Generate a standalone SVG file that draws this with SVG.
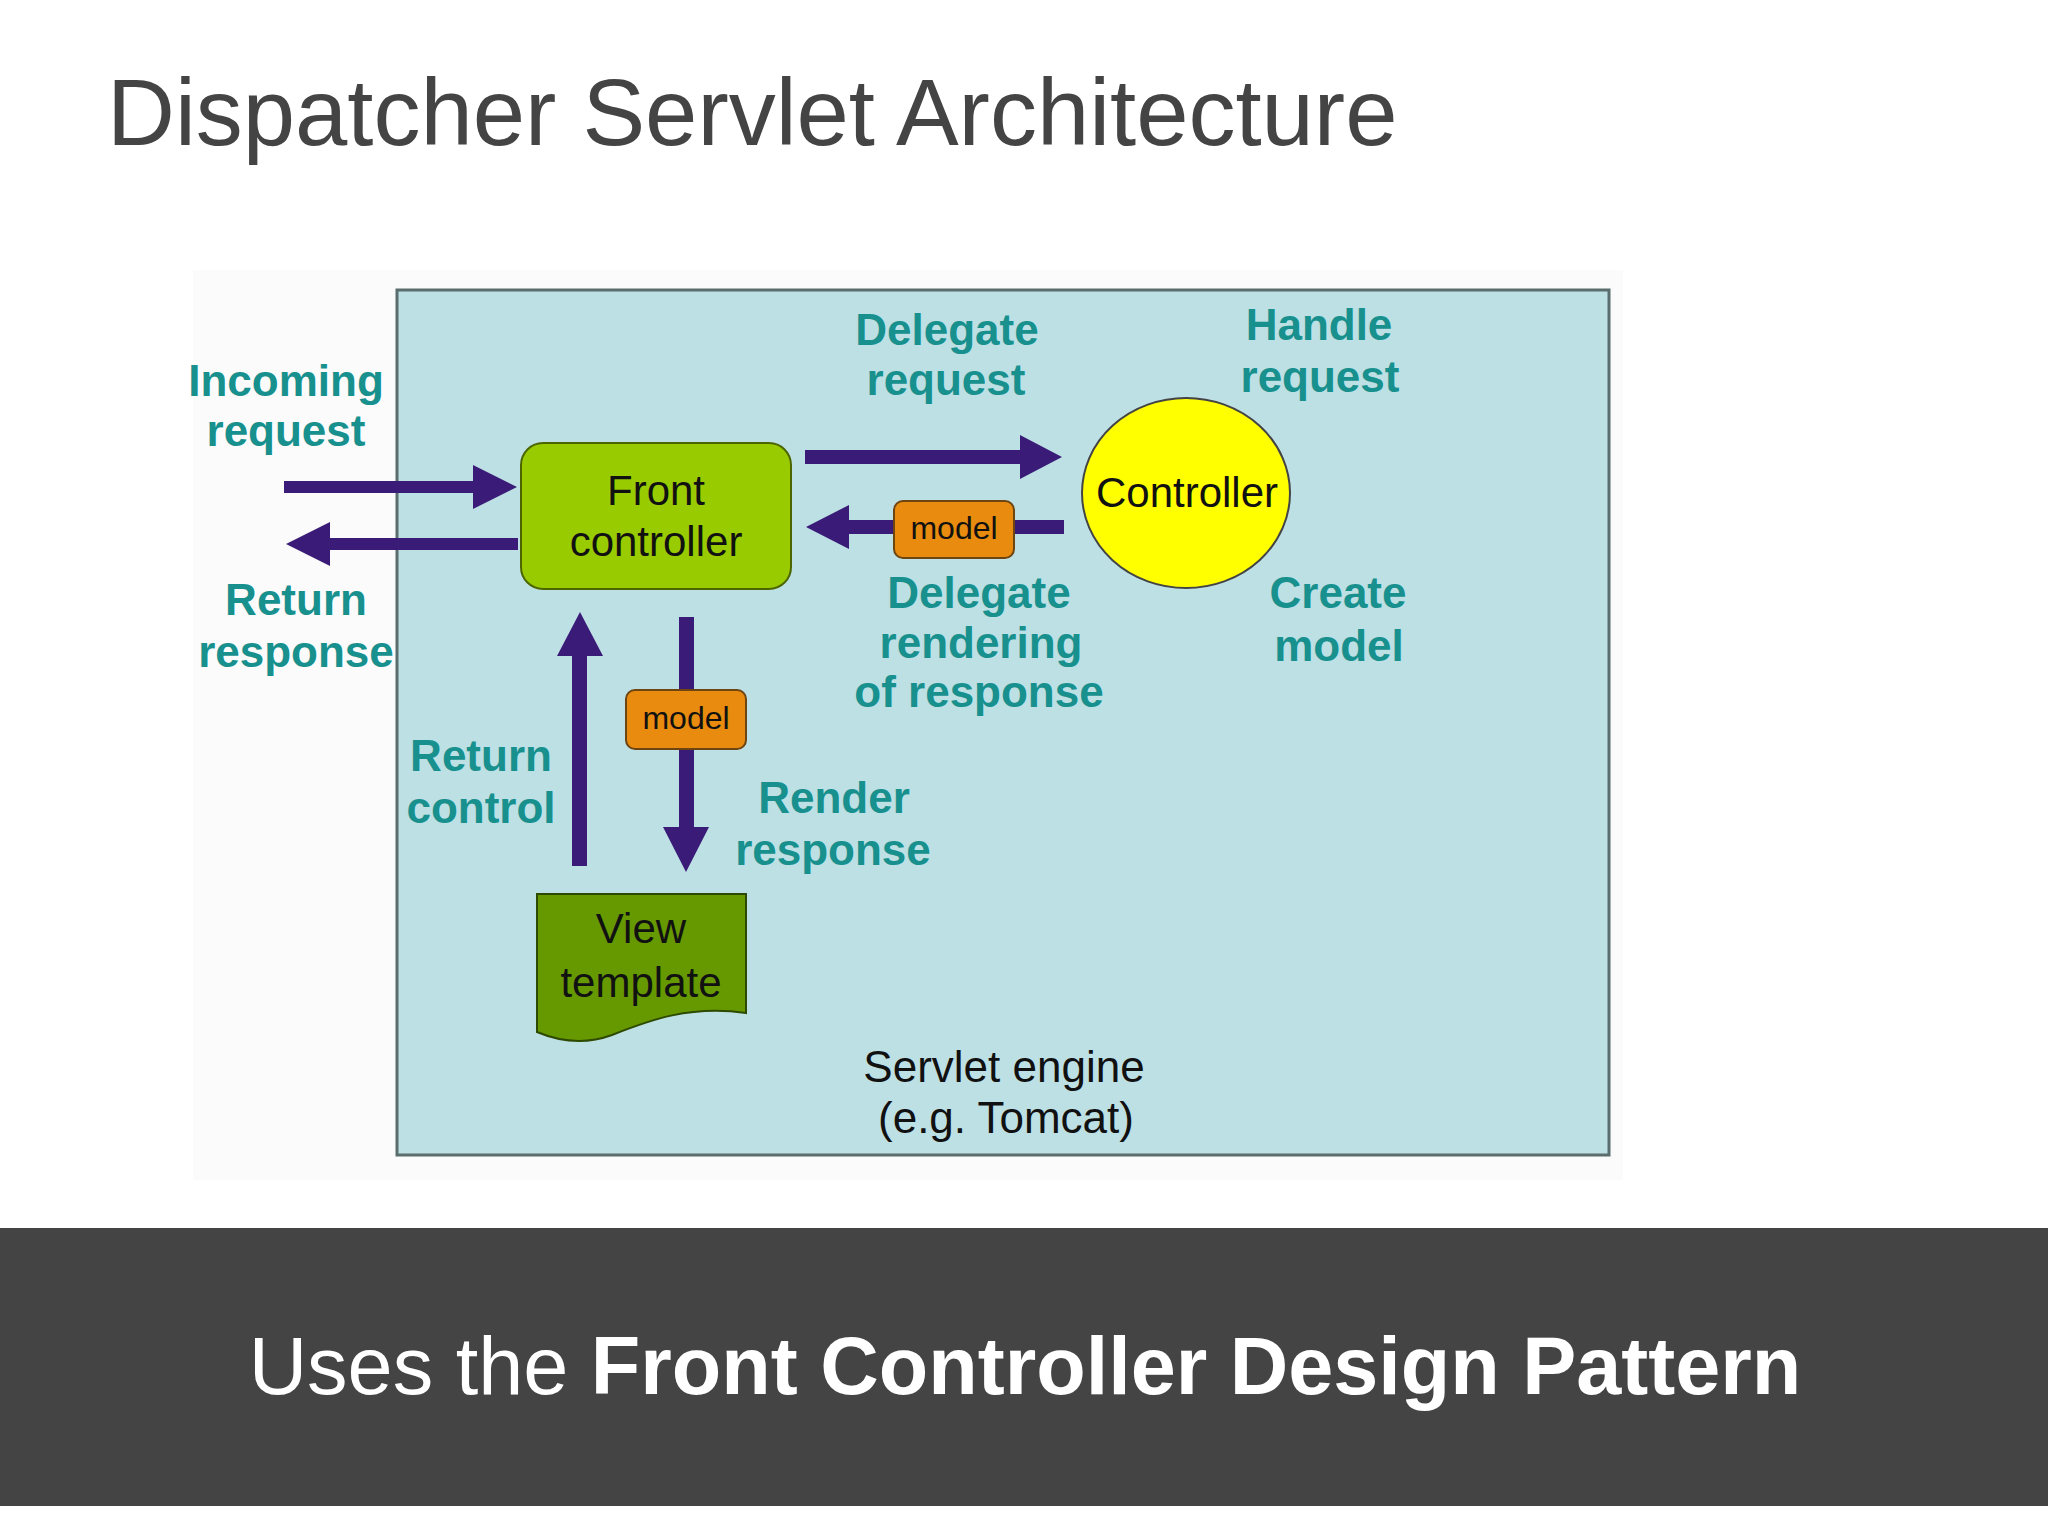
<svg xmlns="http://www.w3.org/2000/svg" width="2048" height="1536" viewBox="0 0 2048 1536">
<style>
.lbl{font-family:"Liberation Sans",Arial,sans-serif;font-weight:bold;font-size:44px;fill:#17908e;text-anchor:middle}
.txt{font-family:"Liberation Sans",Arial,sans-serif;font-size:42px;fill:#111;text-anchor:middle}
.big{font-size:44px}
.mdl{font-family:"Liberation Sans",Arial,sans-serif;font-size:32px;fill:#111;text-anchor:middle}
.arr{fill:#3a1c78}
.model{fill:#e88b0e;stroke:#6e4410;stroke-width:2}
</style>
<rect width="2048" height="1536" fill="#ffffff"/>
<text x="107" y="145" font-family="'Liberation Sans',Arial,sans-serif" font-size="94" fill="#444444">Dispatcher Servlet Architecture</text>
<rect x="193" y="270" width="1430" height="910" fill="#fbfbfb"/>
<g id="servlet-engine">
<rect x="397" y="290" width="1212" height="865" fill="#bde0e5" stroke="#5a6e6e" stroke-width="3"/>
<text class="txt big" x="1004" y="1082">Servlet engine</text>
<text class="txt big" x="1006" y="1133">(e.g. Tomcat)</text>
</g>
<g id="connectors">
<polygon class="arr" points="284,481 473,481 473,465 517,487 473,509 473,493 284,493"/>
<polygon class="arr" points="518,538 330,538 330,522 286,544 330,566 330,550 518,550"/>
<polygon class="arr" points="805,450 1020,450 1020,435 1062,457 1020,479 1020,464 805,464"/>
<polygon class="arr" points="1064,520 849,520 849,505 806,527 849,549 849,534 1064,534"/>
<polygon class="arr" points="572,866 572,656 557,656 580,612 603,656 587,656 587,866"/>
<polygon class="arr" points="679,617 694,617 694,827 709,827 686,872 663,827 679,827"/>
</g>
<g id="model-horizontal">
<rect class="model" x="894" y="501" width="120" height="57" rx="9"/>
<text class="mdl" x="954" y="539">model</text>
</g>
<g id="model-vertical">
<rect class="model" x="626" y="690" width="120" height="59" rx="9"/>
<text class="mdl" x="686" y="729">model</text>
</g>
<g id="front-controller">
<rect x="521" y="443" width="270" height="146" rx="22" fill="#99cc00" stroke="#4d6600" stroke-width="2"/>
<text class="txt" x="656" y="505">Front</text>
<text class="txt" x="656" y="556">controller</text>
</g>
<g id="controller">
<ellipse cx="1186" cy="493" rx="104" ry="95" fill="#ffff00" stroke="#444" stroke-width="2"/>
<text class="txt" x="1187" y="507">Controller</text>
</g>
<g id="view-template">
<path d="M537,894 L746,894 L746,1013 C690,1005 650,1020 612,1035 C582,1046 556,1040 537,1032 Z" fill="#669900" stroke="#2d4a00" stroke-width="2"/>
<text class="txt" x="641" y="943">View</text>
<text class="txt" x="641" y="997">template</text>
</g>
<g id="labels">
<text class="lbl" x="286" y="396">Incoming</text>
<text class="lbl" x="286" y="446">request</text>
<text class="lbl" x="296" y="615">Return</text>
<text class="lbl" x="296" y="667">response</text>
<text class="lbl" x="947" y="345">Delegate</text>
<text class="lbl" x="946" y="395">request</text>
<text class="lbl" x="1319" y="340">Handle</text>
<text class="lbl" x="1320" y="392">request</text>
<text class="lbl" x="979" y="608">Delegate</text>
<text class="lbl" x="981" y="658">rendering</text>
<text class="lbl" x="979" y="707">of response</text>
<text class="lbl" x="1338" y="608">Create</text>
<text class="lbl" x="1339" y="661">model</text>
<text class="lbl" x="481" y="771">Return</text>
<text class="lbl" x="481" y="823">control</text>
<text class="lbl" x="834" y="813">Render</text>
<text class="lbl" x="833" y="865">response</text>
</g>
<rect x="0" y="1228" width="2048" height="278" fill="#444444"/>
<text x="1025" y="1394" font-family="'Liberation Sans',Arial,sans-serif" font-size="81" fill="#ffffff" text-anchor="middle">Uses the <tspan font-weight="bold">Front Controller Design Pattern</tspan></text>
</svg>
